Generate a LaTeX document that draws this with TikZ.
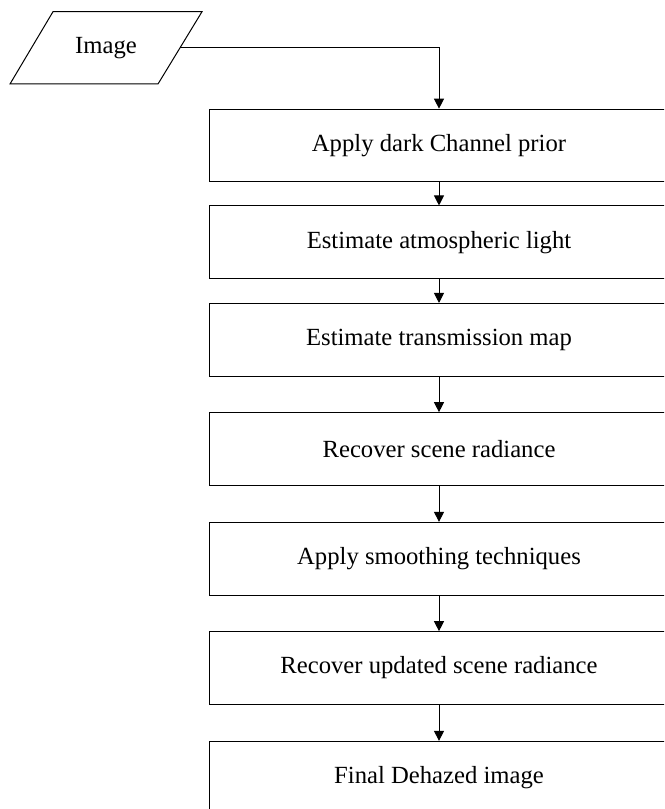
\documentclass[tikz,border=0pt]{standalone}
\usepackage{fontspec}
\setmainfont{Liberation Serif}
\usetikzlibrary{arrows.meta}
\begin{document}
\begin{tikzpicture}[x=0.75pt,y=-0.75pt,
  every node/.style={font=\fontsize{18.5pt}{22pt}\selectfont},
  stepbox/.style={draw=black, line width=0.75pt, minimum width=345pt, minimum height=54.5pt, inner sep=0pt},
  link/.style={draw=black, line width=0.75pt, -{Triangle[width=7.5pt,length=7.5pt]}}]
\useasboundingbox (0,0) rectangle (664,809);
\clip (0,0) rectangle (664,809);
% input parallelogram
\draw[line width=0.75pt] (53,11.7) -- (202,11.7) -- (158,84) -- (10,84) -- cycle;
\node (img) at (106,48) {Image};
\coordinate (imgR) at (180,48);
% process boxes
\node[stepbox] (b1) at (439,145.5) {Apply dark Channel prior};
\node[stepbox] (b2) at (439,242.3) {Estimate atmospheric light};
\node[stepbox] (b3) at (439,339.8) {Estimate transmission map};
\node[stepbox] (b4) at (439,449) {Recover scene radiance};
\node[stepbox] (b5) at (439,558.7) {Apply smoothing techniques};
\node[stepbox] (b6) at (439,668) {Recover updated scene radiance};
\node[stepbox] (b7) at (439,777.7) {Final Dehazed image};
% connectors
\draw[link] (imgR) -| (b1.north);
\draw[link] (b1) -- (b2);
\draw[link] (b2) -- (b3);
\draw[link] (b3) -- (b4);
\draw[link] (b4) -- (b5);
\draw[link] (b5) -- (b6);
\draw[link] (b6) -- (b7);
\end{tikzpicture}
\end{document}
